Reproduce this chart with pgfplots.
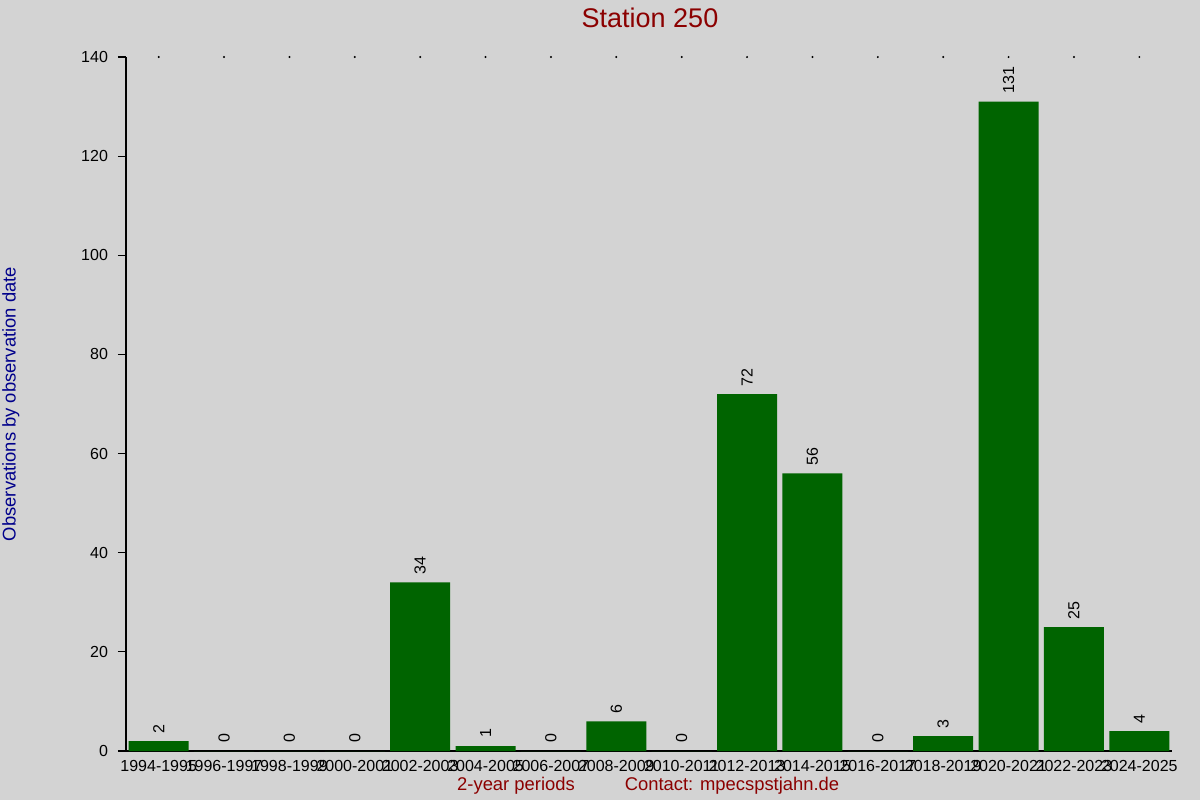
\documentclass[border=0pt]{standalone}
\usepackage{pgfplots}
\pgfplotsset{compat=1.18}
\usepackage{fontspec}
\setmainfont{Liberation Sans}
\definecolor{bg}{HTML}{D3D3D3}
\definecolor{bargreen}{HTML}{006400}
\definecolor{titlered}{HTML}{8B0000}
\definecolor{labelblue}{HTML}{00008B}

\begin{document}
\begin{tikzpicture}
  \fill[bg] (0,0) rectangle (600pt,400pt);
  \path[use as bounding box] (0,0) rectangle (600pt,400pt);
  \begin{axis}[
      at={(63pt,24.5pt)}, anchor=south west,
      scale only axis, width=523pt, height=347pt,
      xmin=-0.5, xmax=15.5, ymin=0, ymax=140,
      axis x line*=bottom, axis y line*=left,
      axis line style={black, line width=0.6pt},
      clip=false,
      xtick={0,...,15},
      xticklabels={1994-1995,1996-1997,1998-1999,2000-2001,2002-2003,2004-2005,2006-2007,2008-2009,2010-2011,2012-2013,2014-2015,2016-2017,2018-2019,2020-2021,2022-2023,2024-2025},
      x tick label style={font=\fontsize{8}{9}\selectfont, yshift=3pt},
      xtick style={draw=none},
      ytick={0,20,...,140},
      y tick label style={font=\fontsize{8}{9}\selectfont, xshift=-1.5pt},
      ytick style={black, line width=0.6pt},
      tick align=outside, major tick length=4pt,
      /pgf/number format/assume math mode=true,
      ylabel={Observations by observation date},
      ylabel style={at={(axis description cs:-0.11,0.5)}, anchor=center, font=\fontsize{9.2}{11}\selectfont, text=labelblue},
    ]
    \addplot[ybar, bar width=30pt, fill=bargreen, draw=none,
      nodes near coords, point meta=y,
      every node near coord/.append style={rotate=90, anchor=west, xshift=0.5pt, font=\fontsize{8}{9}\selectfont, text=black, /pgf/number format/assume math mode=true}]
      coordinates {
        (0,2) (1,0) (2,0) (3,0) (4,34) (5,1) (6,0) (7,6)
        (8,0) (9,72) (10,56) (11,0) (12,3) (13,131) (14,25) (15,4)
      };
    \addplot[only marks, mark=*, mark size=0.25pt, black]
      coordinates {
        (0,140) (1,140) (2,140) (3,140) (4,140) (5,140) (6,140) (7,140)
        (8,140) (9,140) (10,140) (11,140) (12,140) (13,140) (14,140) (15,140)
      };
  \end{axis}
  \node[text=titlered, font=\fontsize{13.5}{15}\selectfont] at (325pt,391pt) {Station 250};
  \node[text=titlered, font=\fontsize{9.2}{11}\selectfont] at (258pt,7pt) {2-year periods};
  \node[text=titlered, font=\fontsize{9.2}{11}\selectfont] at (366pt,7pt) {Contact: mpecspstjahn.de};
\end{tikzpicture}
\end{document}
